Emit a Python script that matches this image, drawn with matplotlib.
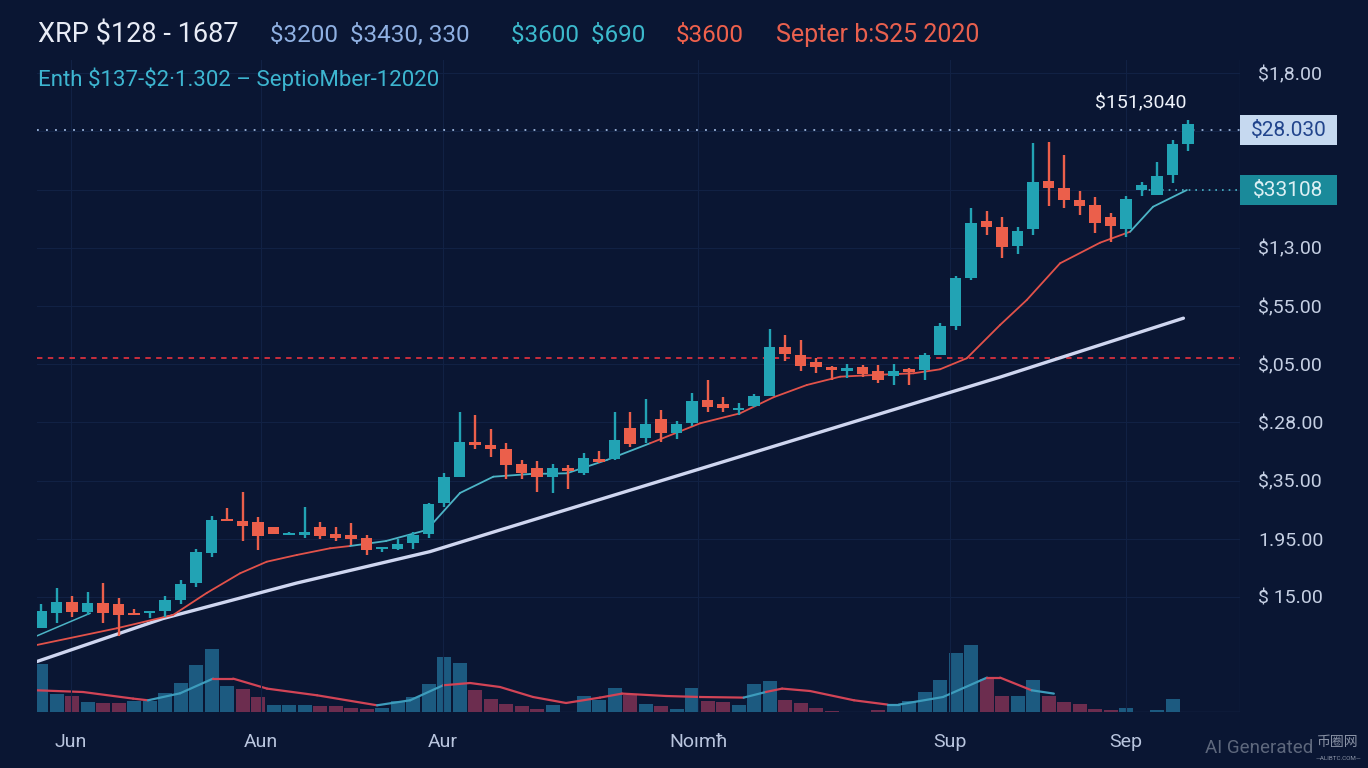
import matplotlib
matplotlib.use("Agg")
import matplotlib.pyplot as plt
from matplotlib.patches import Rectangle
from matplotlib.transforms import blended_transform_factory
import numpy as np

plt.rcParams['font.family'] = ['Roboto', 'DejaVu Sans']

# ---------------- data ----------------
opens = [4.7, 7.3, 9.2, 7.5, 9.0, 8.8, 7.3, 7.3, 7.6, 9.5,
         12.4, 17.6, 23.3, 23.1, 22.9, 22.1, 20.7, 20.7, 22.0, 20.8,
         20.7, 20.1, 18.2, 18.2, 19.3, 20.9, 26.2, 30.6, 36.7, 36.1,
         35.4, 32.8, 32.2, 30.6, 32.1, 31.3, 33.7, 33.7, 39.0, 37.3,
         40.5, 38.2, 39.9, 43.8, 43.2, 42.1, 42.8, 44.5, 52.9, 51.6,
         50.4, 49.6, 48.9, 49.5, 48.9, 48.0, 49.1, 49.0, 51.6, 56.6,
         64.8, 74.6, 73.5, 70.3, 73.3, 81.5, 80.2, 78.2, 77.3, 75.2,
         73.3, 79.9, 79.1, 82.5, 87.9]
highs = [8.8, 11.5, 10.2, 10.9, 12.4, 9.9, 7.9, 7.5, 10.2, 12.9,
         18.2, 23.9, 25.3, 28.1, 23.8, 22.1, 21.1, 25.5, 22.8, 22.0,
         22.7, 20.7, 18.6, 19.9, 21.2, 26.2, 31.3, 41.8, 41.3, 38.8,
         36.4, 33.5, 33.4, 32.8, 32.7, 34.7, 35.0, 41.8, 41.8, 44.1,
         42.2, 40.3, 45.1, 47.2, 44.4, 43.3, 44.9, 56.0, 55.0, 54.2,
         51.0, 49.7, 50.1, 49.9, 49.9, 50.1, 49.3, 51.9, 57.1, 65.1,
         76.8, 76.4, 75.2, 73.6, 88.0, 88.2, 85.9, 79.8, 78.8, 76.0,
         78.9, 81.3, 84.8, 88.6, 91.9]
lows = [4.6, 5.5, 6.6, 6.9, 5.6, 3.3, 6.9, 6.4, 6.6, 8.8,
        11.7, 16.9, 23.1, 19.7, 18.1, 20.8, 20.6, 20.1, 19.9, 19.7,
        18.9, 17.2, 17.8, 18.1, 18.2, 20.1, 25.4, 30.6, 35.5, 34.0,
        30.2, 30.2, 28.1, 27.9, 28.5, 31.0, 33.0, 33.5, 35.7, 36.4,
        36.7, 37.1, 39.3, 41.7, 41.7, 41.3, 42.7, 44.5, 50.6, 48.9,
        48.5, 47.3, 47.6, 47.8, 46.7, 46.4, 46.4, 47.2, 51.6, 55.9,
        64.5, 72.2, 68.2, 69.0, 72.2, 77.1, 76.8, 75.6, 72.6, 71.0,
        71.9, 78.9, 79.1, 81.1, 86.7]
closes = [7.6, 9.2, 7.5, 9.0, 7.3, 6.9, 6.9, 7.5, 9.4, 12.2,
          17.8, 23.2, 23.1, 22.2, 20.5, 20.8, 21.0, 21.2, 20.5, 20.2,
          19.9, 18.1, 18.6, 19.1, 20.7, 25.9, 30.6, 36.7, 36.1, 35.4,
          32.7, 31.3, 30.6, 32.1, 31.7, 33.8, 33.2, 37.0, 36.3, 39.8,
          38.2, 39.7, 43.6, 42.7, 42.4, 42.4, 44.5, 52.9, 51.7, 49.7,
          49.5, 49.0, 49.3, 48.3, 47.3, 48.9, 48.7, 51.6, 56.6, 64.8,
          74.3, 73.6, 70.2, 72.9, 81.3, 80.2, 78.2, 77.2, 74.2, 73.7,
          78.3, 80.8, 82.3, 87.8, 91.3]
volume = [48.4, 17.7, 15.7, 10, 9.4, 9, 10.7, 10.7, 19.4, 29,
          46.7, 63.4, 26, 23.4, 15, 6.7, 6.7, 6.7, 6, 5.7,
          4.4, 2.7, 4.4, 10.7, 15, 27.7, 55, 49, 22.4, 13.4,
          7.7, 5.7, 3.4, 7.4, 0.5, 15.7, 11.7, 24, 17, 8,
          6, 2.7, 24.4, 11, 10, 7.4, 28.4, 31, 11.7, 9,
          4, 1, 0, 0, 1.7, 6.7, 11, 20, 31.7, 59,
          66.7, 33.4, 15.7, 15.7, 31.7, 15.7, 10, 7.7, 2.7, 1.7,
          4.4, 0, 1.7, 13.4, 0]
vol_dir = list("UUDUDDUUUU" "UUUDDUUUDD" "DDUUUUUUDD" "DDDUUUUUDU"
               "DUUDDUUUDD" "DDDDDUUUUU" "UDDUUDDDDD" "UUUUU")

# moving-average style lines (index position, value)
ma_x = [-0.28, 4.88, 8.52, 10.69, 12.84, 14.56, 16.5, 18.65, 19.94, 22.26,
        24.88, 27.03, 29.18, 31.55, 33.92, 36.5, 39.29, 42.52, 45.1, 47.25,
        49.4, 51.55, 53.7, 56.28, 58.0, 59.72, 61.87, 63.59, 65.74, 68.32,
        70.26, 71.74, 73.92]
ma_y = [1.75, 4.62, 6.91, 10.69, 14.07, 16.06, 17.22, 18.37, 18.76, 19.62,
        21.51, 27.87, 30.67, 31.13, 31.25, 33.54, 36.41, 39.84, 41.56, 44.31,
        46.42, 47.85, 48.14, 48.43, 49.12, 51.01, 56.73, 61.02, 67.33, 70.87,
        72.76, 77.05, 79.92]
ma_seg = "RRRRRRRR" "TTTTTTTT" "RRRRRRRRRRRRRR" "TT"
fast_x = [-0.28, 1.23, 3.16]
fast_y = [3.30, 5.02, 7.20]
trend_x = [-0.28, 7.87, 16.5, 25.1, 29.6, 49.0, 61.9, 73.7]
trend_y = [-1.1, 6.3, 12.4, 17.8, 21.5, 37.3, 47.8, 57.9]
vma_x = [-0.28, 2.71, 5.94, 6.9, 8.97, 11.1, 12.39, 14.58, 17.81, 21.68,
         23.81, 25.94, 27.68, 29.61, 31.74, 33.87, 36.06, 37.48, 40.32, 42.52,
         45.33, 46.76, 47.81, 49.61, 52.45, 54.62, 55.34, 58.19, 61.03, 61.87,
         63.91, 65.34]
vma_y = [21.7, 20, 13.4, 11.7, 18.7, 33.4, 33.4, 23.4, 16.7, 6.7,
         11.7, 26.7, 29, 25, 15, 9, 14.4, 18.4, 16, 15,
         14.4, 20, 23.4, 21, 11.7, 7.4, 7.4, 15, 34.4, 34.4,
         21.7, 18.4]
vma_seg = "RRRTTRRRRTTRRRRRRRRRTRRRRTTTRRT"

support_level = 51.06
top_level = 90.23
last_level = 79.92
top_label = "$28.030"
last_label = "$33108"
peak_label = "$151,3040"
peak_pos = (70.97, 94.87)
last_line_start = 71.0

ytick_vals = [10, 20, 30, 40, 50, 60, 70, 80, 90, 100]
ytick_labels = ["$ 15.00", "1.95.00", "$,35.00", "$.28.00", "$,05.00",
                "$,55.00", "$1,3.00", "", "", "$1,8.00"]
xtick_vals = [1.94, 14.19, 25.94, 42.39, 58.65, 70.0]
xtick_labels = ["Jun", "Aun", "Aur", "Noımħ", "Sup", "Sep"]

title_parts = [("XRP $128 - 1687", 38, 19.5, '#e8ecf6'),
               ("$3200  $3430, 330", 270, 17.5, '#8fb0e2'),
               ("$3600  $690", 511, 17.5, '#3cb9cc'),
               ("$3600", 676, 17.5, '#f0614c'),
               ("Septer b:S25 2020", 776, 18, '#e8604e')]
subtitle = "Enth $137-$2·1.302 – SeptioMber-12020"

# ---------------- style ----------------
BG = '#0a1633'
UP = '#22a3b4'
DN = '#eb5f4b'
VUP = '#1c5a80'
VDN = '#6c2d4f'
MA_R = '#e2524a'
MA_T = '#4cb4c6'
GRID = '#112144'

W, H = 1368, 768
fig = plt.figure(figsize=(W / 100, H / 100), dpi=100, facecolor=BG)
L, R, TOP, BOT, VTOP = 37, 1240, 60, 712, 560

ax = fig.add_axes([L / W, 1 - BOT / H, (R - L) / W, (BOT - TOP) / H])
axv = fig.add_axes([L / W, 1 - BOT / H, (R - L) / W, (BOT - VTOP) / H])
ax.set_zorder(2)
axv.set_zorder(1)
for a in (ax, axv):
    a.set_facecolor('none')
    a.set_xlim(-0.26, 77.35)
    for s in a.spines.values():
        s.set_visible(False)
ax.set_ylim(-9.76, 102.26)
axv.set_ylim(0, 152)

# volume
idx = np.arange(len(volume))
vcols = [VUP if d == 'U' else VDN for d in vol_dir]
axv.bar(idx, volume, width=0.9, color=vcols, zorder=2)
for k in range(len(vma_x) - 1):
    axv.plot(vma_x[k:k + 2], vma_y[k:k + 2],
             color='#d24456' if vma_seg[k] == 'R' else '#3d9cbc',
             lw=1.6, solid_capstyle='round', zorder=3)
axv.axhline(0, color='#1b2b50', lw=1.0, zorder=1)
axv.set_yticks([])
axv.set_xticks(xtick_vals)
axv.set_xticklabels(xtick_labels)
axv.tick_params(axis='x', length=0, pad=15, labelsize=14, labelcolor='#b9c5de')

# price axes grid
ax.set_yticks(ytick_vals)
ax.set_yticklabels(ytick_labels)
ax.yaxis.tick_right()
ax.tick_params(axis='y', length=0, pad=13, labelsize=14, labelcolor='#c5cfe3')
ax.set_xticks(xtick_vals)
ax.tick_params(axis='x', length=0, labelbottom=False)
ax.grid(True, color=GRID, lw=0.8, zorder=0)
ax.axvline(77.35, color=GRID, lw=1.0)

# trend line
ax.plot(trend_x, trend_y, color='#cfd6f0', lw=2.4, solid_capstyle='round', zorder=3)

# MA lines
for k in range(len(ma_x) - 1):
    ax.plot(ma_x[k:k + 2], ma_y[k:k + 2],
            color=MA_R if ma_seg[k] == 'R' else MA_T,
            lw=1.3, solid_capstyle='round', zorder=4)
ax.plot(fast_x, fast_y, color=MA_T, lw=1.1, zorder=4)

# reference lines
ax.axhline(support_level, color='#d8303e', lw=1.3, ls=(0, (3, 3)), zorder=2)
ax.axhline(top_level, color='#9cb6de', lw=1.3, ls=(0, (1, 4)), zorder=2)
ax.plot([last_line_start, 77.35], [last_level, last_level], color='#49b7c8',
        lw=1.2, ls=(0, (1, 3)), zorder=2)

# candles
o = np.array(opens); c = np.array(closes)
h = np.array(highs); l = np.array(lows)
ccols = [UP if cc >= oo else DN for oo, cc in zip(o, c)]
cidx = np.arange(len(o))
ax.vlines(cidx, l, h, colors=ccols, lw=1.7, zorder=5)
bot = np.minimum(o, c)
hgt = np.maximum(np.abs(c - o), 0.35)
ax.bar(cidx, hgt, bottom=bot, width=0.72, color=ccols, zorder=6)

# right-side value boxes
tr = blended_transform_factory(ax.transAxes, ax.transData)
bw = 97 / (R - L)
bh = 30 * 0.1718
ax.add_patch(Rectangle((1.0, top_level - bh / 2), bw, bh, transform=tr,
                       facecolor='#c6d9f0', edgecolor='none', clip_on=False, zorder=7))
ax.text(1.0 + bw / 2, top_level, top_label, transform=tr, ha='center', va='center',
        fontsize=15, color='#21448c', zorder=8, parse_math=False)
ax.add_patch(Rectangle((1.0, last_level - bh / 2), bw, bh, transform=tr,
                       facecolor='#1a8a9a', edgecolor='none', clip_on=False, zorder=7))
ax.text(1.0 + bw / 2, last_level, last_label, transform=tr, ha='center', va='center',
        fontsize=15, color='#dcf0f4', zorder=8, parse_math=False)
ax.text(peak_pos[0], peak_pos[1], peak_label, ha='center', va='center',
        fontsize=14, color='#eef2fa', zorder=8, parse_math=False)

# titles
for s, x, fs, col in title_parts:
    fig.text(x / W, 1 - 35 / H, s, fontsize=fs, color=col, va='center', ha='left',
             parse_math=False)
fig.text(38 / W, 1 - 79 / H, subtitle, fontsize=16, color='#3db5d0',
         va='center', ha='left', parse_math=False)

# watermark
fig.text(1205 / W, 1 - 748 / H, "AI Generated", fontsize=13.5, color='#5d677c',
         va='center', ha='left')
fig.text(1338 / W, 1 - 742 / H, "币圈网", fontsize=10, color='#8a93a6',
         family=['Noto Sans CJK SC'], va='center', ha='center')
fig.text(1338 / W, 1 - 759 / H, "—ALIBTC.COM—", fontsize=4.5, color='#8a93a6',
         va='center', ha='center')

fig.savefig('out.png', dpi=100, facecolor=BG)
